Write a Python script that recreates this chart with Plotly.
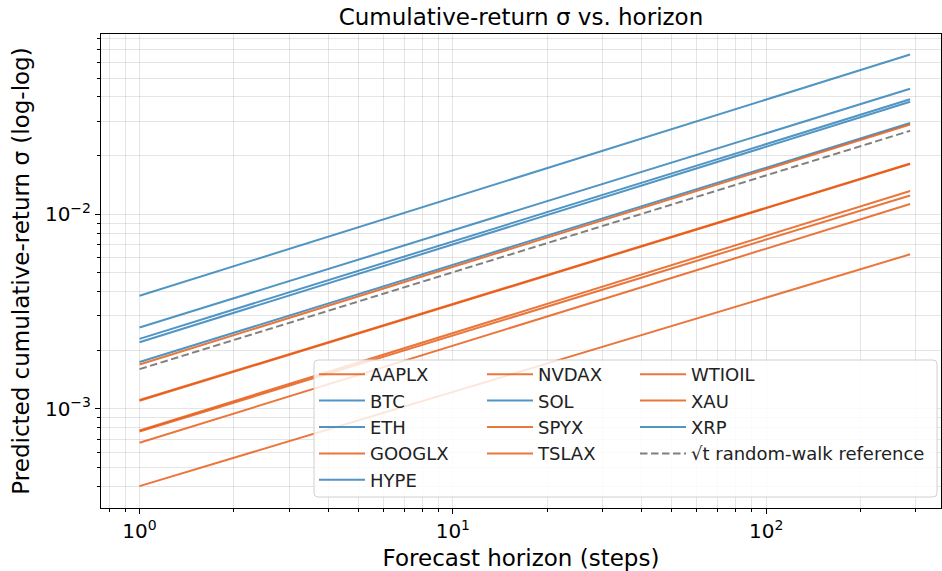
import plotly.graph_objects as go

# ---- data ----
horizons = [1, 288]

names = ["AAPLX", "BTC", "ETH", "GOOGLX", "HYPE", "NVDAX", "SOL", "SPYX",
         "TSLAX", "WTIOIL", "XAU", "XRP"]
groups = ["equity", "crypto", "crypto", "equity", "crypto", "equity", "crypto",
          "equity", "equity", "equity", "equity", "crypto"]

aaplx = [0.000775, 0.01315]
btc = [0.00174, 0.0294]
eth = [0.00220, 0.0378]
googlx = [0.000765, 0.01248]
hype = [0.00381, 0.0661]
nvdax = [0.00111, 0.0182]
sol = [0.00262, 0.0441]
spyx = [0.000401, 0.00622]
tslax = [0.00169, 0.0289]
wtioil = [0.00110, 0.0181]
xau = [0.000670, 0.01127]
xrp = [0.00229, 0.0389]
series = [aaplx, btc, eth, googlx, hype, nvdax, sol, spyx, tslax, wtioil, xau, xrp]

ref_name = "√t random-walk reference"
ref_values = [0.00160, 0.0268]

# legend column of each entry (matplotlib 3-column legend)
legend_col = {"AAPLX": "legend", "BTC": "legend", "ETH": "legend", "GOOGLX": "legend",
              "HYPE": "legend", "NVDAX": "legend2", "SOL": "legend2", "SPYX": "legend2",
              "TSLAX": "legend2", "WTIOIL": "legend3", "XAU": "legend3", "XRP": "legend3",
              ref_name: "legend3"}

colors = {"crypto": "rgba(31,119,180,0.78)", "equity": "rgba(230,88,16,0.82)"}

fig = go.Figure()
for name, grp, vals in zip(names, groups, series):
    fig.add_trace(go.Scatter(
        x=horizons, y=vals, mode="lines", name=name,
        line=dict(color=colors[grp], width=2),
        legend=legend_col[name],
    ))
fig.add_trace(go.Scatter(
    x=horizons, y=ref_values, mode="lines", name=ref_name,
    line=dict(color="rgba(128,128,128,1)", width=2, dash="7.5px,3.5px"),
    legend=legend_col[ref_name],
))

grid_col = "rgba(0,0,0,0.10)"
font_fam = "DejaVu Sans, sans-serif"

# plot area in pixels
L, R, T, B = 101, 941, 34, 508
W, H = R - L, B - T


def px(x):
    return (x - L) / W


def py(y):
    return (B - y) / H


leg_common = dict(orientation="v", xanchor="left", yanchor="top",
                  bgcolor="rgba(0,0,0,0)", borderwidth=0,
                  font=dict(size=18, family=font_fam, color="#222"),
                  itemwidth=46, traceorder="normal", tracegroupgap=0)

# rounded legend frame (matplotlib style)
bx0, bx1, by0, by1 = px(314), px(937), py(497), py(360)
rx, ry = 4 / W, 4 / H
frame_path = (f"M{bx0+rx},{by1} L{bx1-rx},{by1} Q{bx1},{by1} {bx1},{by1-ry} "
              f"L{bx1},{by0+ry} Q{bx1},{by0} {bx1-rx},{by0} "
              f"L{bx0+rx},{by0} Q{bx0},{by0} {bx0},{by0+ry} "
              f"L{bx0},{by1-ry} Q{bx0},{by1} {bx0+rx},{by1} Z")

fig.update_layout(
    width=942, height=571,
    paper_bgcolor="white", plot_bgcolor="white",
    margin=dict(l=L, r=942 - R, t=T, b=571 - B),
    font=dict(family=font_fam, color="black"),
    title=dict(text="Cumulative-return σ vs. horizon", x=0.5, xanchor="center",
               xref="paper", y=1 - 17 / 571, yref="container", yanchor="middle",
               font=dict(size=23, family=font_fam, color="black")),
    showlegend=True,
    legend=dict(x=px(314), y=py(356), **leg_common),
    legend2=dict(x=px(482), y=py(356), **leg_common),
    legend3=dict(x=px(635), y=py(356), **leg_common),
    shapes=[dict(type="path", xref="paper", yref="paper", path=frame_path,
                 fillcolor="rgba(255,255,255,0.82)", line=dict(color="#d0d0d0", width=1),
                 layer="above")],
)

fig.update_xaxes(
    type="log", range=[-0.1229, 2.558],
    title=dict(text="Forecast horizon (steps)", font=dict(size=23, family=font_fam), standoff=8),
    tickvals=[1, 10, 100], ticktext=["10<sup>0</sup>", "10<sup>1</sup>", "10<sup>2</sup>"],
    tickfont=dict(size=20, family=font_fam),
    ticks="outside", ticklen=5, tickcolor="black",
    showgrid=True, gridcolor=grid_col, gridwidth=1,
    showline=True, linecolor="black", linewidth=1, mirror=True, zeroline=False,
    minor=dict(tickvals=[0.8, 0.9] + list(range(2, 10)) + [k * 10 for k in range(2, 10)] + [200, 300],
               ticks="outside", ticklen=3, tickcolor="black",
               showgrid=True, gridcolor=grid_col, gridwidth=1),
)
fig.update_yaxes(
    type="log", range=[-3.509, -1.0746],
    title=dict(text="Predicted cumulative-return σ (log-log)", font=dict(size=23, family=font_fam), standoff=8),
    tickvals=[1e-3, 1e-2], ticktext=["10<sup>−3</sup>", "10<sup>−2</sup>"],
    tickfont=dict(size=20, family=font_fam),
    ticks="outside", ticklen=5, tickcolor="black",
    showgrid=True, gridcolor=grid_col, gridwidth=1,
    showline=True, linecolor="black", linewidth=1, mirror=True, zeroline=False,
    minor=dict(tickvals=[k * 1e-4 for k in range(3, 10)] + [k * 1e-3 for k in range(2, 10)]
               + [k * 1e-2 for k in range(2, 10)],
               ticks="outside", ticklen=3, tickcolor="black",
               showgrid=True, gridcolor=grid_col, gridwidth=1),
)

fig.write_html("out.html", config={"displayModeBar": False},
               post_script="document.body.style.margin='0';")
